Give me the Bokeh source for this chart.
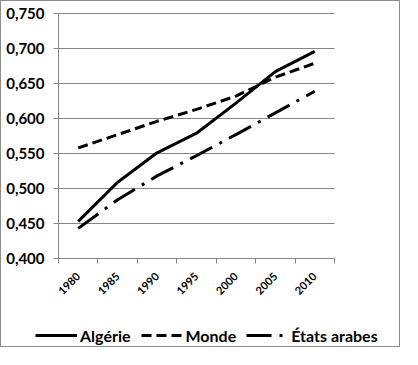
from bokeh.plotting import figure
from bokeh.models import (FixedTicker, CustomJSTickFormatter, Legend, LegendItem, Range1d)
from bokeh.embed import file_html
from bokeh.resources import INLINE
import math

# ---- data ----
years = ["1980", "1985", "1990", "1995", "2000", "2005", "2010"]
algerie = [0.453, 0.509, 0.551, 0.579, 0.622, 0.667, 0.696]
monde = [0.558, 0.577, 0.596, 0.613, 0.632, 0.659, 0.679]
etats_arabes = [0.443, 0.484, 0.518, 0.547, 0.577, 0.608, 0.639]
y_ticks = [0.40, 0.45, 0.50, 0.55, 0.60, 0.65, 0.70, 0.75]
y_min, y_max = 0.40, 0.75

n = len(years)
xs = [i + 0.5 for i in range(n)]

FONT = "Lato"
GRAY = "#868686"

# The frame covers the whole canvas; axes are pinned at the data origin so the
# legend (drawn inside the frame) can sit under the axis like in the reference.
W, H = 400, 347
plot_left, plot_w = 57, 276      # pixel box of the value area inside the canvas
plot_top, plot_h = 12, 245
px_x = plot_w / n
px_y = plot_h / (y_max - y_min)
x_range = Range1d(-plot_left / px_x, n + (W - plot_left - plot_w) / px_x)
y_range = Range1d(y_min - (H - plot_top - plot_h) / px_y, y_max + plot_top / px_y)

p = figure(width=W, height=H, output_backend="svg", toolbar_location=None,
           x_range=x_range, y_range=y_range,
           min_border_left=0, min_border_right=0, min_border_top=0, min_border_bottom=0)
p.styles = {"border": "1px solid #8c8c8c"}
p.outline_line_color = None
p.background_fill_color = "white"
p.border_fill_color = "white"

# grid
p.xgrid.grid_line_color = None
p.ygrid.grid_line_color = GRAY
p.ygrid.grid_line_width = 1
p.ygrid.ticker = FixedTicker(ticks=y_ticks)
p.ygrid.cross_bounds = (0, n)

# y axis
p.yaxis.fixed_location = 0
p.yaxis.bounds = (y_min, y_max)
p.yaxis.ticker = FixedTicker(ticks=y_ticks)
p.yaxis.formatter = CustomJSTickFormatter(code="return tick.toFixed(3).replace('.', ',');")
p.yaxis.axis_line_color = GRAY
p.yaxis.major_tick_line_color = GRAY
p.yaxis.major_tick_out = 5
p.yaxis.major_tick_in = 0
p.yaxis.minor_tick_line_color = None
p.yaxis.major_label_text_font = FONT
p.yaxis.major_label_text_font_style = "bold"
p.yaxis.major_label_text_font_size = "15px"
p.yaxis.major_label_text_color = "black"
p.yaxis.major_label_standoff = 9

# x axis: labels at category centres, tick marks at boundaries (minor ticks)
p.xaxis.fixed_location = y_min
p.xaxis.bounds = (0, n)
p.xaxis.ticker = FixedTicker(ticks=xs, minor_ticks=list(range(n + 1)))
p.xaxis.major_label_overrides = {x: y for x, y in zip(xs, years)}
p.xaxis.axis_line_color = GRAY
p.xaxis.major_tick_line_color = None
p.xaxis.minor_tick_line_color = GRAY
p.xaxis.minor_tick_out = 5
p.xaxis.minor_tick_in = 0
p.xaxis.major_label_orientation = math.pi / 4
p.xaxis.major_label_text_font = FONT
p.xaxis.major_label_text_font_size = "11px"
p.xaxis.major_label_text_font_style = "bold"
p.xaxis.major_label_text_color = "black"
p.xaxis.major_label_standoff = 10

r1 = p.line(xs, algerie, line_color="black", line_width=3)
r2 = p.line(xs, monde, line_color="black", line_width=3, line_dash="10 5")
r3 = p.line(xs, etats_arabes, line_color="black", line_width=3, line_dash="25 8 3 8")

legend = Legend(items=[LegendItem(label="Algérie", renderers=[r1]),
                       LegendItem(label="Monde", renderers=[r2]),
                       LegendItem(label="États arabes", renderers=[r3])],
                orientation="horizontal", location=(34, 3),
                glyph_width=42, glyph_height=20, label_standoff=3, spacing=10,
                padding=0, margin=0, border_line_color=None, background_fill_alpha=0,
                label_text_font=FONT, label_text_font_size="16px",
                label_text_font_style="bold", label_text_color="black")
p.add_layout(legend, "center")

open("out.html", "w").write(file_html(p, INLINE))
